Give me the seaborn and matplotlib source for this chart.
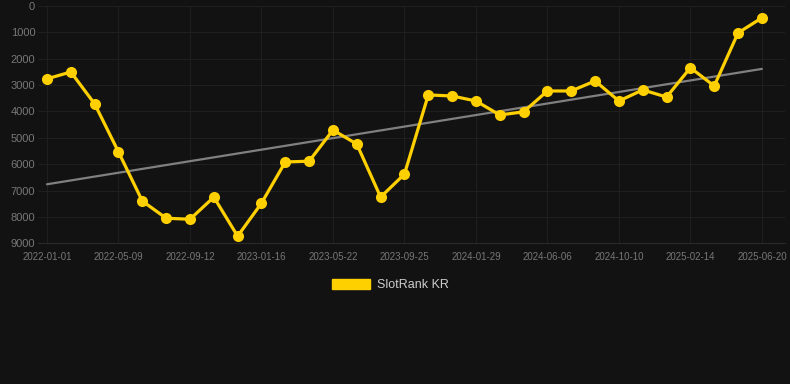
import matplotlib
matplotlib.use("Agg")
import matplotlib.pyplot as plt
from matplotlib.patches import Patch
import numpy as np
import pandas as pd
import seaborn as sns

# colours
BG = "#121212"
GOLD = "#FFD000"
GRID = "#1f1f1f"
TICK = "#777777"
TREND = "#808080"

# data (rank, lower is better -> inverted axis)
dates = [
    "2022-01-01", "2022-02-12", "2022-03-26", "2022-05-09", "2022-06-20",
    "2022-08-01", "2022-09-12", "2022-10-24", "2022-12-05", "2023-01-16",
    "2023-02-27", "2023-04-10", "2023-05-22", "2023-07-03", "2023-08-14",
    "2023-09-25", "2023-11-06", "2023-12-18", "2024-01-29", "2024-03-11",
    "2024-04-24", "2024-06-06", "2024-07-18", "2024-08-29", "2024-10-10",
    "2024-11-21", "2025-01-03", "2025-02-14", "2025-03-28", "2025-05-09",
    "2025-06-20",
]
ranks = [
    2770, 2510, 3720, 5540, 7400, 8050, 8090, 7250, 8730, 7480,
    5920, 5890, 4710, 5240, 7250, 6380, 3380, 3420, 3610, 4140,
    4020, 3230, 3230, 2850, 3610, 3190, 3460, 2350, 3040, 1030,
    460,
]
y_ticks = [0, 1000, 2000, 3000, 4000, 5000, 6000, 7000, 8000, 9000]
series_name = "SlotRank KR"

df = pd.DataFrame({"pos": np.arange(len(dates)), "date": dates, "rank": ranks})

sns.set_style("dark")
plt.rcParams["font.family"] = ["Liberation Sans", "DejaVu Sans"]

fig = plt.figure(figsize=(7.9, 3.84), dpi=100, facecolor=BG)
ax = fig.add_axes([38 / 790, 1 - 243.3 / 384, 747 / 790, 237.6 / 384])
ax.set_facecolor(BG)

# trend line (linear fit)
sns.regplot(data=df, x="pos", y="rank", scatter=False, ci=None, ax=ax,
            line_kws={"color": TREND, "linewidth": 1.6}, truncate=True)

# main series
sns.lineplot(data=df, x="pos", y="rank", ax=ax, color=GOLD, linewidth=2.3,
             marker="o", markersize=8, markeredgewidth=0, markeredgecolor=GOLD)

ax.set_ylim(9000, 0)
ax.set_xlim(-0.378, 30.97)
ax.set_yticks(y_ticks)
ax.set_yticklabels([str(v) for v in y_ticks])
tick_pos = df["pos"].iloc[::3]
ax.set_xticks(tick_pos)
ax.set_xticklabels(df["date"].iloc[::3])
ax.tick_params(axis="y", colors=TICK, labelsize=8, length=0, pad=2)
ax.tick_params(axis="x", colors=TICK, labelsize=7, length=0, pad=6)
ax.grid(True, color=GRID, linewidth=0.8)
ax.set_axisbelow(True)
ax.set_xlabel("")
ax.set_ylabel("")
for s in ax.spines.values():
    s.set_visible(False)
ax.spines["bottom"].set_visible(True)
ax.spines["bottom"].set_color("#2a2a2a")
ax.spines["bottom"].set_linewidth(0.8)

handle = Patch(facecolor=GOLD, edgecolor=GOLD)
fig.legend([handle], [series_name], loc="center", bbox_to_anchor=(390 / 790, 1 - 285 / 384),
           frameon=False, fontsize=9, labelcolor="#cccccc",
           handlelength=3.1, handleheight=0.9, handletextpad=0.5)

fig.savefig("out.png", dpi=100, facecolor=BG)
